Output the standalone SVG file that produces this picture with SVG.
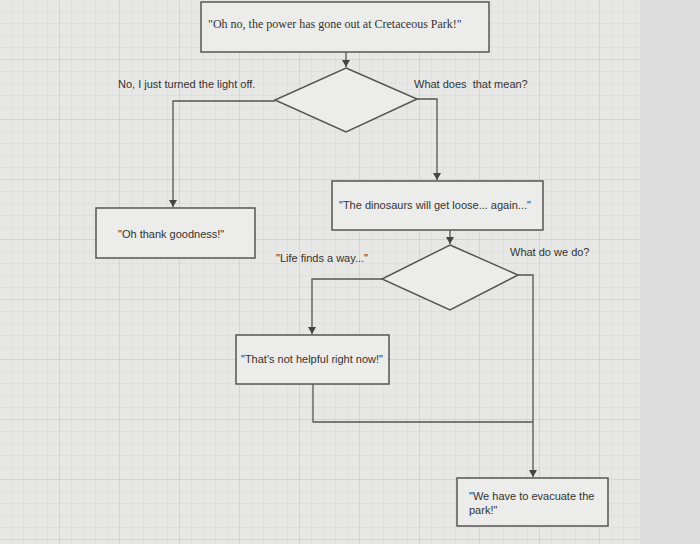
<svg xmlns="http://www.w3.org/2000/svg" width="700" height="544" viewBox="0 0 700 544">
<defs>
<pattern id="g" width="12" height="12" patternUnits="userSpaceOnUse"><path d="M12 0V12H0" fill="none" stroke="#d4d4d2" stroke-width="0.7"/></pattern>
<pattern id="G" width="60" height="60" patternUnits="userSpaceOnUse"><path d="M60 0V60H0" fill="none" stroke="#c4c4c2" stroke-width="0.9"/></pattern>
<marker id="a" markerWidth="8" markerHeight="8" refX="7" refY="4" orient="auto" markerUnits="userSpaceOnUse"><path d="M0,0 L7,4 L0,8 Z" fill="#444"/></marker>
<style>
.b{fill:#ececea;stroke:#555;stroke-width:1.5}
.c{fill:none;stroke:#555;stroke-width:1.3}
text{font-family:"Liberation Sans",Arial,sans-serif;font-size:11px;fill:#333}
</style>
</defs>
<rect width="700" height="544" fill="#e7e7e5"/>
<rect width="640" height="544" fill="url(#g)"/>
<rect width="640" height="544" fill="url(#G)"/>
<rect x="640" width="60" height="544" fill="#dcdcdc"/>
<g id="connectors">
<path class="c" d="M346 52V67" marker-end="url(#a)"/>
<path class="c" d="M275 101H173V207" marker-end="url(#a)"/>
<path class="c" d="M417 99H437V180" marker-end="url(#a)"/>
<path class="c" d="M450 230V244" marker-end="url(#a)"/>
<path class="c" d="M382 279H312V334" marker-end="url(#a)"/>
<path class="c" d="M518 275H533V477" marker-end="url(#a)"/>
<path class="c" d="M313 384V422H533"/>
</g>
<g id="n1"><rect class="b" x="201" y="2" width="288" height="50"/><text x="208" y="28" style="font-family:'Liberation Serif',serif;font-size:12px">"Oh no, the power has gone out at Cretaceous Park!"</text></g>
<g id="d1"><path class="b" d="M346 68L417 99L346 132L275 100Z"/></g>
<g id="n2"><rect class="b" x="96" y="208" width="159" height="50"/><text x="118" y="238">"Oh thank goodness!"</text></g>
<g id="n3"><rect class="b" x="332" y="181" width="211" height="49"/><text x="339" y="209">"The dinosaurs will get loose... again..."</text></g>
<g id="d2"><path class="b" d="M450 245L518 275L450 310L382 279Z"/></g>
<g id="n4"><rect class="b" x="236" y="335" width="153" height="49"/><text x="241" y="363">"That's not helpful right now!"</text></g>
<g id="n5"><rect class="b" x="457" y="478" width="151" height="48"/><text x="469" y="500">"We have to evacuate the</text><text x="469" y="514">park!"</text></g>
<g id="labels">
<text x="118" y="88">No, I just turned the light off.</text>
<text x="414" y="88">What does&#160; that mean?</text>
<text x="276" y="262">"Life finds a way..."</text>
<text x="510" y="256">What do we do?</text>
</g>
</svg>
